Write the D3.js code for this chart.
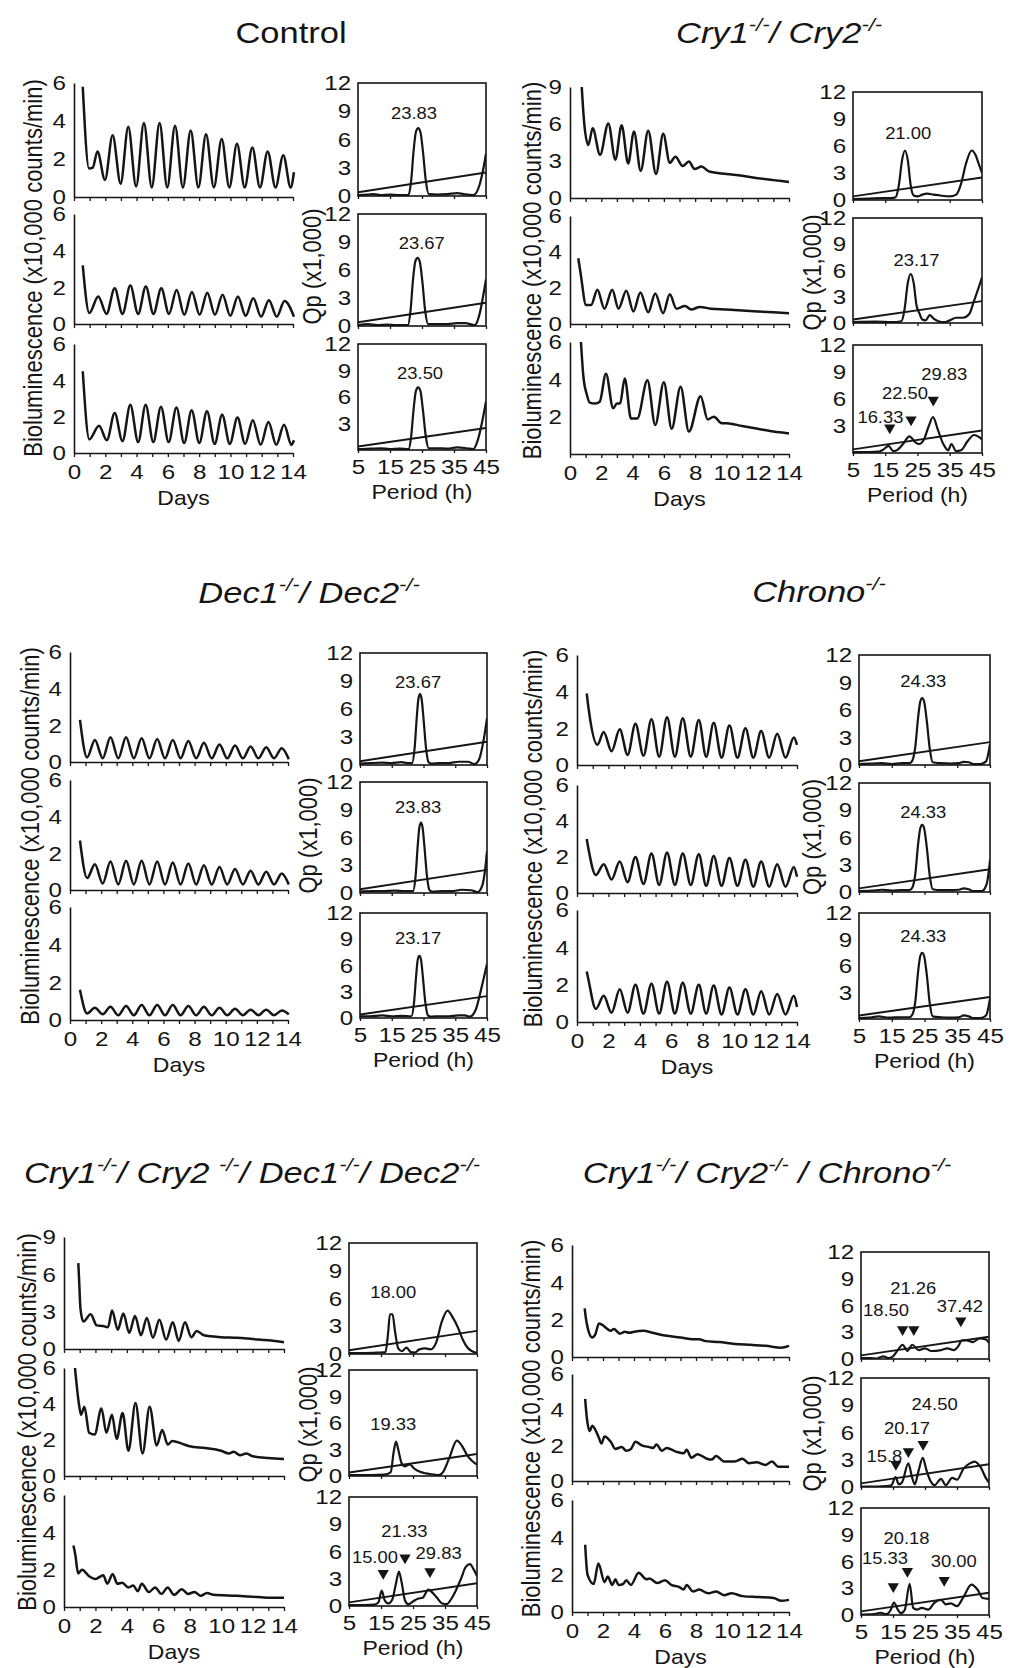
<!DOCTYPE html>
<html>
<head>
<meta charset="utf-8">
<script src="https://cdn.jsdelivr.net/npm/d3@7"></script>
<style>
body { margin: 0; background: #ffffff; }
svg { display: block; }
</style>
</head>
<body>
<svg></svg>
<script>
// ---- shared data ----
const dayTicks = d3.range(0, 15);
const periodTicks = [5, 15, 25, 35, 45];
const qpAll = [0, 3, 6, 9, 12];
const qpNoZero = [3, 6, 9, 12];
const bio6 = [0, 2, 4, 6];
const bio9 = [0, 3, 6, 9];
const thresholdLine = [[5, 0.4], [45, 2.5]];

// ---- titles: [text, superscript?] ----
const controlTitle = [["Control", false]];
const cryTitle = [["Cry1", false], ["-/-", true], ["/ Cry2", false], ["-/-", true]];
const decTitle = [["Dec1", false], ["-/-", true], ["/ Dec2", false], ["-/-", true]];
const chronoTitle = [["Chrono", false], ["-/-", true]];
const cryDecTitle = [["Cry1", false], ["-/-", true], ["/ Cry2 ", false], ["-/-", true], ["/ Dec1", false], ["-/-", true], ["/ Dec2", false], ["-/-", true]];
const cryChronoTitle = [["Cry1", false], ["-/-", true], ["/ Cry2", false], ["-/-", true], [" / Chrono", false], ["-/-", true]];

// ---- Control ----
const controlBio = [
  [[0.56,5.8],[0.96,1.5],[1.2,1.55],[1.5,2.4],[1.98,0.9],[2.47,3.25],[2.98,0.7],[3.47,3.7],[3.97,0.55],[4.47,3.9],[4.97,0.5],[5.47,3.9],[5.96,0.5],[6.46,3.75],[6.96,0.5],[7.46,3.5],[7.95,0.5],[8.44,3.3],[8.94,0.5],[9.44,3.05],[9.93,0.5],[10.42,2.8],[10.91,0.5],[11.4,2.6],[11.89,0.5],[12.38,2.4],[12.88,0.5],[13.38,2.2],[13.85,0.5],[14.06,1.3]],
  [[0.56,3.2],[0.98,0.6],[1.55,1.5],[2.08,0.55],[2.6,1.95],[3.1,0.55],[3.6,2.1],[4.1,0.55],[4.59,2.05],[5.08,0.55],[5.58,1.95],[6.07,0.55],[6.56,1.85],[7.05,0.5],[7.54,1.75],[8.03,0.5],[8.52,1.7],[9.01,0.5],[9.5,1.6],[9.99,0.45],[10.48,1.5],[10.97,0.45],[11.46,1.4],[11.96,0.4],[12.46,1.3],[12.96,0.4],[13.46,1.25],[14.06,0.4]],
  [[0.56,4.5],[0.98,0.75],[1.6,1.5],[2.1,0.7],[2.6,2.2],[3.1,0.65],[3.6,2.65],[4.1,0.6],[4.58,2.65],[5.07,0.6],[5.56,2.55],[6.05,0.6],[6.55,2.5],[7.04,0.55],[7.52,2.35],[8.01,0.55],[8.5,2.3],[8.99,0.5],[9.47,2.1],[9.96,0.5],[10.45,1.95],[10.94,0.5],[11.43,1.8],[11.93,0.45],[12.43,1.7],[12.93,0.45],[13.43,1.55],[13.9,0.45],[14.06,0.7]]
];
const controlBioTicks = [bio6, bio6, bio6];
const controlQp = [
  [[5,0.1],[8,0.15],[10,0.2],[12,0.1],[15,0.15],[18,0.1],[20.8,0.1],[21.6,1.6],[22.4,4.9],[23.1,6.8],[23.8,7.2],[24.5,6.8],[25.3,4.7],[26.2,1.6],[27.1,0.2],[30,0.15],[33,0.2],[36,0.3],[38,0.2],[41,0.1],[43,1.2],[44,2.6],[45,4.5]],
  [[5,0.1],[8,0.2],[11,0.1],[14,0.15],[17,0.1],[20.6,0.1],[21.4,1.6],[22.2,5.0],[22.9,6.9],[23.6,7.3],[24.3,6.9],[25.1,4.8],[26.0,1.6],[26.9,0.2],[30,0.2],[33,0.2],[36,0.3],[38.5,0.3],[41.5,0.1],[43,1.3],[44,3.0],[45,5.0]],
  [[5,0.1],[9,0.15],[12,0.2],[15,0.1],[18,0.15],[20.8,0.1],[21.6,1.5],[22.4,4.7],[23.1,6.7],[23.8,7.1],[24.5,6.7],[25.3,4.5],[26.2,1.5],[27.1,0.2],[30,0.2],[33,0.15],[36,0.3],[39,0.2],[41,0.1],[42.5,1.2],[43.8,3.2],[45,5.5]]
];
const controlQpTicks = [qpAll, qpAll, qpNoZero];
const controlLabels = [[["23.83",22.5,8.8]], [["23.67",24.9,8.9]], [["23.50",24.4,8.7]]];
const controlArrows = [[], [], []];

// ---- Cry1/Cry2 ----
const cryBio = [
  [[0.75,9.0],[0.9,6.2],[1.17,4.3],[1.45,5.65],[1.92,3.5],[2.45,6.05],[2.9,3.1],[3.3,5.9],[3.72,2.8],[4.09,5.4],[4.52,2.2],[5.0,5.45],[5.5,1.95],[5.96,5.2],[6.38,2.85],[6.74,3.35],[7.2,2.6],[7.6,2.95],[7.97,2.35],[8.4,2.55],[8.9,2.15],[10,1.95],[11,1.8],[12,1.6],[13,1.45],[14,1.3]],
  [[0.53,3.65],[0.68,2.8],[1.03,1.05],[1.35,1.05],[1.75,1.9],[2.2,0.85],[2.7,1.9],[3.1,0.85],[3.6,1.85],[4.05,0.7],[4.5,1.75],[5.0,0.65],[5.45,1.7],[5.95,0.6],[6.38,1.65],[6.8,0.85],[7.35,1.0],[7.75,0.8],[8.3,0.95],[9,0.85],[10,0.8],[11,0.75],[12,0.7],[13,0.65],[14,0.6]],
  [[0.7,6.0],[0.85,4.2],[1.07,3.2],[1.26,2.75],[1.6,2.7],[1.9,2.8],[2.3,4.3],[2.76,2.45],[3.0,2.7],[3.2,2.7],[3.5,4.05],[3.9,1.9],[4.3,1.9],[4.95,3.95],[5.45,1.55],[6.0,3.85],[6.5,1.35],[7.07,3.6],[7.6,1.2],[8.35,3.1],[8.8,1.85],[9.2,2.0],[9.7,1.65],[10,1.65],[11,1.5],[12,1.35],[13,1.2],[14,1.1]]
];
const cryBioTicks = [bio9, bio6, [2, 4, 6]];
const cryQp = [
  [[5,0.1],[10,0.15],[14,0.2],[17,0.2],[18.2,0.3],[19.2,1.6],[20.2,4.4],[21.1,5.5],[22.0,4.4],[22.9,1.6],[23.8,0.5],[25,0.4],[26.5,0.6],[28,0.7],[30,0.6],[32,0.5],[35,0.4],[37,0.6],[38.5,1.8],[40,4],[41.8,5.5],[43,5],[44,4],[45,3]],
  [[5,0.1],[12,0.15],[17,0.1],[20,0.2],[21.0,1.6],[22.0,4.6],[22.9,5.6],[23.8,4.6],[24.7,2.0],[25.6,1.1],[26.5,0.4],[27.5,0.3],[28.8,0.9],[30,0.5],[31.5,0.2],[33.5,0.1],[35,0.3],[37,0.6],[39,0.6],[41,1.0],[42.5,2.5],[45,5.2]],
  [[5,0.1],[10,0.1],[13,0.15],[14.5,0.4],[16,0.8],[17.5,0.2],[19,0.4],[20.5,1.0],[22.5,1.85],[24.3,1.2],[25.5,1.0],[27,1.5],[28.5,3.0],[29.8,4.0],[31.3,2.6],[33,1.0],[34.5,0.3],[35.5,1.0],[37,0.2],[38.5,0.3],[40.5,1.3],[42.5,2.0],[44,1.8],[45,1.5]]
];
const cryQpTicks = [qpAll, qpAll, qpNoZero];
const cryLabels = [[["21.00",22.1,7.4]], [["23.17",24.7,7.2]], [["16.33",13.5,4.0],["22.50",21.1,6.6],["29.83",33.3,8.7]]];
const cryArrows = [[], [], [[16.4,2.8],[23.0,3.7],[29.9,5.9]]];

// ---- Dec1/Dec2 ----
const decBio = [
  [[0.64,2.3],[1.1,0.25],[1.6,1.2],[2.1,0.2],[2.6,1.35],[3.1,0.2],[3.6,1.35],[4.1,0.2],[4.6,1.3],[5.1,0.2],[5.6,1.25],[6.1,0.2],[6.6,1.2],[7.1,0.2],[7.6,1.15],[8.1,0.2],[8.6,1.05],[9.1,0.2],[9.6,0.95],[10.1,0.2],[10.6,0.9],[11.1,0.2],[11.6,0.85],[12.1,0.2],[12.6,0.8],[13.1,0.2],[13.6,0.75],[14.05,0.15]],
  [[0.64,2.7],[1.1,0.65],[1.6,1.4],[2.1,0.35],[2.6,1.55],[3.1,0.3],[3.6,1.6],[4.1,0.3],[4.6,1.6],[5.1,0.3],[5.6,1.55],[6.1,0.3],[6.6,1.5],[7.1,0.3],[7.6,1.45],[8.1,0.3],[8.6,1.35],[9.1,0.3],[9.6,1.25],[10.1,0.3],[10.6,1.15],[11.1,0.3],[11.6,1.05],[12.1,0.3],[12.6,1.0],[13.1,0.3],[13.6,0.9],[14.05,0.3]],
  [[0.64,1.6],[1.1,0.35],[1.6,0.65],[2.1,0.3],[2.6,0.7],[3.1,0.25],[3.6,0.75],[4.1,0.25],[4.6,0.8],[5.1,0.25],[5.6,0.8],[6.1,0.25],[6.6,0.8],[7.1,0.25],[7.6,0.75],[8.1,0.25],[8.6,0.7],[9.1,0.25],[9.6,0.65],[10.1,0.25],[10.6,0.6],[11.1,0.25],[11.6,0.55],[12.1,0.25],[12.6,0.55],[13.1,0.25],[13.6,0.5],[14.05,0.3]]
];
const decBioTicks = [bio6, bio6, bio6];
const decQp = [
  [[5,0.15],[8,0.2],[12,0.25],[15,0.2],[18,0.3],[20,0.2],[21.4,0.2],[22.2,1.8],[22.9,5.2],[23.4,7.1],[23.9,7.6],[24.4,7.1],[25.0,5.0],[25.8,1.8],[26.6,0.3],[27.5,0.15],[30,0.2],[33,0.2],[36,0.35],[39,0.35],[41,0.1],[42.5,0.6],[44,2.8],[45,5.0]],
  [[5,0.15],[9,0.2],[12,0.2],[16,0.25],[19,0.2],[21.7,0.2],[22.5,1.8],[23.2,5.2],[23.7,7.1],[24.2,7.6],[24.7,7.1],[25.3,5.0],[26.1,1.8],[26.9,0.3],[27.8,0.15],[31,0.2],[34,0.2],[37,0.35],[40,0.3],[42,0.1],[43.5,0.8],[44.4,2.5],[45,4.5]],
  [[5,0.2],[8,0.2],[12,0.3],[15,0.2],[18,0.25],[21.2,0.2],[22.0,1.7],[22.7,4.9],[23.2,6.7],[23.7,7.1],[24.2,6.7],[24.8,4.7],[25.6,1.7],[26.4,0.3],[27.3,0.15],[30,0.2],[33,0.2],[36,0.3],[38,0.3],[39.6,0.15],[41.5,1.0],[43.3,3.5],[45,6.2]]
];
const decQpTicks = [qpAll, qpAll, qpAll];
const decLabels = [[["23.67",23.3,8.9]], [["23.83",23.3,9.2]], [["23.17",23.3,9.1]]];
const decArrows = [[], [], []];

// ---- Chrono ----
const chronoBio = [
  [[0.62,3.9],[0.75,3.0],[1.3,1.1],[1.7,1.8],[2.2,0.75],[2.72,1.95],[3.22,0.55],[3.72,2.25],[4.23,0.5],[4.74,2.5],[5.23,0.45],[5.73,2.6],[6.23,0.45],[6.73,2.55],[7.24,0.45],[7.75,2.45],[8.22,0.45],[8.7,2.3],[9.2,0.4],[9.7,2.15],[10.21,0.4],[10.72,2.0],[11.22,0.4],[11.72,1.85],[12.23,0.4],[12.74,1.7],[13.27,0.4],[13.8,1.5],[14.0,1.1]],
  [[0.62,3.0],[0.72,2.5],[1.2,1.0],[1.7,1.6],[2.2,0.75],[2.72,1.75],[3.22,0.6],[3.72,2.0],[4.23,0.5],[4.74,2.2],[5.23,0.45],[5.73,2.25],[6.23,0.45],[6.73,2.2],[7.24,0.45],[7.75,2.15],[8.22,0.4],[8.7,2.05],[9.2,0.4],[9.7,1.95],[10.21,0.4],[10.72,1.85],[11.22,0.35],[11.72,1.75],[12.23,0.35],[12.74,1.6],[13.27,0.35],[13.8,1.45],[14.0,0.9]],
  [[0.62,2.7],[0.72,2.3],[1.2,0.7],[1.7,1.4],[2.2,0.5],[2.72,1.75],[3.22,0.5],[3.72,2.0],[4.23,0.45],[4.74,2.05],[5.23,0.45],[5.73,2.15],[6.23,0.45],[6.73,2.1],[7.24,0.45],[7.75,2.0],[8.22,0.45],[8.7,1.95],[9.2,0.4],[9.7,1.85],[10.21,0.4],[10.72,1.75],[11.22,0.4],[11.72,1.65],[12.23,0.4],[12.74,1.5],[13.27,0.4],[13.8,1.4],[14.0,0.8]]
];
const chronoBioTicks = [bio6, bio6, bio6];
const chronoQp = [
  [[5,0.1],[8,0.15],[12,0.2],[15,0.1],[18,0.2],[20.4,0.2],[21.3,0.5],[22.2,2.0],[23.0,5.0],[23.7,6.9],[24.3,7.3],[24.9,6.9],[25.7,4.8],[26.6,1.8],[27.5,0.3],[30,0.2],[33,0.15],[35.5,0.2],[37,0.35],[38.5,0.3],[40,0.1],[42,0.1],[43.8,0.4],[45,2.3]],
  [[5,0.1],[9,0.15],[12,0.25],[15,0.15],[18,0.2],[20.4,0.2],[21.3,0.5],[22.2,2.0],[23.0,5.1],[23.7,7.0],[24.3,7.4],[24.9,7.0],[25.7,4.9],[26.6,1.8],[27.5,0.3],[30,0.2],[33,0.2],[35.5,0.25],[37,0.4],[38.5,0.3],[40,0.1],[42.5,0.1],[44,0.9],[45,3.5]],
  [[5,0.1],[8,0.15],[11,0.3],[14,0.15],[18,0.2],[20.4,0.2],[21.3,0.5],[22.2,2.0],[23.0,5.2],[23.7,7.1],[24.3,7.5],[24.9,7.1],[25.7,5.0],[26.6,1.8],[27.5,0.3],[30,0.2],[33,0.15],[35.5,0.2],[37,0.4],[38.5,0.3],[40,0.1],[42,0.1],[43.8,0.4],[45,2.3]]
];
const chronoQpTicks = [qpAll, qpAll, qpNoZero];
const chronoLabels = [[["24.33",24.6,9.1]], [["24.33",24.6,8.8]], [["24.33",24.6,9.3]]];
const chronoArrows = [[], [], []];

// ---- Cry1/Cry2/Dec1/Dec2 ----
const cryDecBio = [
  [[0.91,6.9],[0.96,5.6],[1.05,3.2],[1.23,2.2],[1.7,2.8],[2.08,1.9],[2.5,1.85],[2.8,1.75],[3.06,3.1],[3.42,1.55],[3.78,2.85],[4.15,1.3],[4.52,2.65],[4.9,1.1],[5.27,2.5],[5.66,0.9],[6.07,2.35],[6.5,0.75],[6.92,2.15],[7.3,0.65],[7.7,2.15],[8.1,0.95],[8.45,1.45],[8.9,1.1],[10,0.95],[11,0.9],[12,0.8],[13,0.7],[14,0.55]],
  [[0.7,6.0],[0.95,4.0],[1.08,3.4],[1.3,3.85],[1.6,2.4],[1.95,2.3],[2.38,3.75],[2.7,2.4],[3.05,3.4],[3.35,2.05],[3.73,3.5],[4.1,1.4],[4.55,4.05],[5.0,1.25],[5.45,3.85],[5.9,1.7],[6.25,2.55],[6.6,1.75],[6.9,1.95],[7.5,1.8],[8,1.65],[9,1.55],[10,1.4],[10.5,1.25],[10.8,1.35],[11.2,1.15],[11.6,1.25],[12,1.1],[13,1.0],[14,0.95]],
  [[0.6,3.3],[0.72,2.8],[0.9,1.8],[1.15,2.0],[1.6,1.65],[2.0,1.5],[2.5,1.7],[2.75,1.25],[3.1,1.75],[3.4,1.25],[3.7,1.3],[4.1,1.05],[4.4,1.15],[4.7,0.85],[4.95,1.25],[5.4,0.8],[5.8,1.05],[6.2,0.7],[6.6,1.05],[7.0,0.65],[7.5,0.95],[7.9,0.7],[8.3,0.8],[8.7,0.6],[9.1,0.75],[9.5,0.65],[11,0.6],[12,0.55],[13,0.5],[14,0.5]]
];
const cryDecBioTicks = [bio9, bio6, bio6];
const cryDecQp = [
  [[5,0.1],[10,0.1],[14,0.15],[16.4,0.2],[17.2,2.2],[17.8,4.3],[18.6,4.3],[19.4,2.4],[20.4,0.6],[21.5,0.3],[23,0.7],[24.3,0.2],[25.5,0.15],[27,0.5],[28.8,0.6],[30.5,0.5],[32.2,1.2],[34,3.5],[35.8,4.7],[37.5,3.9],[39,2.9],[40.5,1.6],[42,0.7],[43.5,0.3],[45,0.1]],
  [[5,0.1],[12,0.1],[16,0.15],[18,0.4],[19,2.8],[19.7,3.9],[20.5,2.8],[21.5,1.4],[22.5,1.1],[24,1.3],[25.5,0.8],[27,0.5],[29,0.3],[31,0.2],[33,0.1],[34.5,0.5],[36.5,2.2],[38.7,4.0],[40.5,3.3],[42,2.3],[43.5,1.7],[45,1.3]],
  [[5,0.1],[10,0.1],[13,0.15],[14.2,0.4],[15.2,1.7],[16.2,0.6],[17.3,0.3],[18.5,0.7],[19.7,2.5],[20.6,3.8],[21.5,2.5],[22.5,0.6],[23.5,0.2],[25,0.5],[26.5,0.8],[28,0.9],[29.8,1.8],[31,1.5],[32.5,0.9],[34,0.3],[35.5,0.2],[37,0.8],[38.5,1.8],[40,3.0],[41.5,4.3],[42.8,4.6],[44,4.0],[45,3.3]]
];
const cryDecQpTicks = [qpAll, qpAll, qpAll];
const cryDecLabels = [[["18.00",18.8,6.7]], [["19.33",18.8,5.8]], [["15.00",13.1,5.4],["21.33",22.3,8.2],["29.83",33.0,5.8]]];
const cryDecArrows = [[], [], [[15.7,3.6],[22.5,5.3],[30.3,3.8]]];

// ---- Cry1/Cry2/Chrono ----
const cryChronoBio = [
  [[0.82,2.6],[0.86,2.3],[1.0,1.6],[1.3,1.05],[1.5,1.2],[1.74,1.8],[2.0,1.7],[2.2,1.55],[2.5,1.4],[2.7,1.5],[3.0,1.3],[3.1,1.25],[3.4,1.35],[3.7,1.3],[4.0,1.35],[4.6,1.4],[5.2,1.3],[6.0,1.15],[7.0,1.05],[7.8,0.95],[8.2,0.95],[8.6,0.85],[9.5,0.8],[10.5,0.7],[11.5,0.65],[12.5,0.6],[13.5,0.5],[14,0.6]],
  [[0.85,4.6],[0.95,3.6],[1.15,2.8],[1.3,3.1],[1.7,2.5],[1.9,2.1],[2.1,2.5],[2.5,2.2],[2.8,1.8],[3.2,1.9],[3.5,1.7],[3.8,1.8],[4.1,2.2],[4.5,2.0],[5.0,1.9],[5.25,1.85],[5.45,2.05],[5.8,1.7],[6.1,1.85],[6.7,1.65],[7.2,1.55],[7.4,1.75],[7.7,1.3],[8.1,1.5],[8.7,1.25],[9.0,1.2],[9.3,1.4],[9.8,1.1],[10.5,1.1],[11,1.25],[11.4,1.0],[11.9,1.05],[12.5,0.9],[12.9,1.1],[13.3,0.8],[14,0.8]],
  [[0.85,3.6],[1.0,2.0],[1.4,1.5],[1.7,2.6],[2.1,1.6],[2.3,1.9],[2.6,1.45],[2.8,1.75],[3.0,1.45],[3.3,1.5],[3.5,1.7],[3.8,1.45],[4.3,2.1],[4.8,1.75],[5.0,1.8],[5.5,1.55],[6.0,1.7],[6.4,1.45],[6.9,1.35],[7.2,1.2],[7.4,1.45],[7.8,1.1],[8.2,1.2],[8.8,1.0],[9.3,1.1],[9.8,0.9],[10.3,1.0],[11,0.85],[12,0.8],[13,0.75],[13.5,0.6],[14,0.65]]
];
const cryChronoBioTicks = [bio6, bio6, bio6];
const cryChronoQp = [
  [[5,0.1],[8,0.1],[10,0.05],[11,0.2],[12,0.3],[13.5,0.1],[15,0.3],[16.5,1.0],[18,1.6],[19.5,0.9],[21,1.6],[23,1.0],[25,1.2],[27,0.9],[30,1.0],[32,1.2],[34,1.0],[35.5,1.5],[36.5,2.1],[38,2.1],[40,1.9],[42,2.3],[44,2.2],[45,1.8]],
  [[5,0.05],[10,0.05],[13,0.1],[14.5,0.2],[15.8,1.1],[16.8,0.3],[17.8,0.5],[19.8,2.6],[21,1.0],[21.8,0.3],[23,1.8],[24.3,3.2],[25.5,1.8],[26.8,0.6],[28,0.2],[30,0.9],[31.5,0.2],[33.5,1.0],[35,0.8],[37,2.0],[39,2.6],[40.5,2.8],[42.5,2.1],[44,1.0],[45,0.5]],
  [[5,0.05],[9,0.1],[11,0.25],[13,0.1],[14.2,0.5],[15.3,1.4],[16.5,0.6],[17.5,0.2],[18.7,0.6],[20.2,3.5],[21.3,0.8],[22.5,0.6],[24,0.8],[26,0.6],[28,1.4],[30,1.7],[31.5,1.2],[33,1.3],[35,1.0],[37,2.0],[39.5,3.4],[41.5,2.8],[43,1.9],[45,1.8]]
];
const cryChronoQpTicks = [qpAll, qpAll, qpAll];
const cryChronoLabels = [
  [["18.50",12.8,5.5],["21.26",21.3,7.9],["37.42",35.9,5.9]],
  [["15.8",12.3,3.4],["20.17",19.4,6.5],["24.50",28.0,9.1]],
  [["15.33",12.5,6.4],["20.18",19.2,8.6],["30.00",34.0,6.0]]
];
const cryChronoArrows = [
  [[18.0,3.3],[21.5,3.3],[36.2,4.3]],
  [[15.9,2.5],[19.8,3.9],[24.4,4.7]],
  [[15.1,3.2],[19.5,4.9],[31.0,3.9]]
];

// ---- page geometry ----
const width = 1015;
const height = 1668;
const ink = "#151515";
const fontFamily = "'Liberation Sans', Arial, Helvetica, sans-serif";
const textStretch = 1.15;

const panels = [
  { title: controlTitle, italic: false, titlePos: [291, 43],
    bio: controlBio, bioTicks: controlBioTicks, qp: controlQp, qpTicks: controlQpTicks,
    labels: controlLabels, arrows: controlArrows,
    bioX: [74, 293], bioRows: [[83,197],[214,324],[344,453]], bioTitleX: 33,
    qpX: [358, 486], qpRows: [[83,196],[214,326],[344,450]], qpTitleX: 312 },
  { title: cryTitle, italic: true, titlePos: [779, 43],
    bio: cryBio, bioTicks: cryBioTicks, qp: cryQp, qpTicks: cryQpTicks,
    labels: cryLabels, arrows: cryArrows,
    bioX: [570, 789], bioRows: [[87,198],[216,324],[342,454]], bioTitleX: 532,
    qpX: [853, 982], qpRows: [[92,200],[218,323],[345,453]], qpTitleX: 812 },
  { title: decTitle, italic: true, titlePos: [309, 603],
    bio: decBio, bioTicks: decBioTicks, qp: decQp, qpTicks: decQpTicks,
    labels: decLabels, arrows: decArrows,
    bioX: [70, 288], bioRows: [[652,762],[780,890],[907,1020]], bioTitleX: 30,
    qpX: [360, 487], qpRows: [[653,765],[782,893],[913,1018]], qpTitleX: 308 },
  { title: chronoTitle, italic: true, titlePos: [819, 602],
    bio: chronoBio, bioTicks: chronoBioTicks, qp: chronoQp, qpTicks: chronoQpTicks,
    labels: chronoLabels, arrows: chronoArrows,
    bioX: [577, 797], bioRows: [[655,765],[785,893],[910,1022]], bioTitleX: 533,
    qpX: [859, 990], qpRows: [[655,765],[783,892],[913,1019]], qpTitleX: 812 },
  { title: cryDecTitle, italic: true, titlePos: [252, 1183],
    bio: cryDecBio, bioTicks: cryDecBioTicks, qp: cryDecQp, qpTicks: cryDecQpTicks,
    labels: cryDecLabels, arrows: cryDecArrows,
    bioX: [64, 284], bioRows: [[1237,1349],[1368,1476],[1495,1607]], bioTitleX: 27,
    qpX: [349, 477], qpRows: [[1243,1354],[1370,1476],[1497,1606]], qpTitleX: 308 },
  { title: cryChronoTitle, italic: true, titlePos: [767, 1183],
    bio: cryChronoBio, bioTicks: cryChronoBioTicks, qp: cryChronoQp, qpTicks: cryChronoQpTicks,
    labels: cryChronoLabels, arrows: cryChronoArrows,
    bioX: [572, 789], bioRows: [[1245,1357],[1374,1481],[1500,1612]], bioTitleX: 531,
    qpX: [861, 989], qpRows: [[1252,1359],[1378,1487],[1508,1615]], qpTitleX: 812 }
];

const svg = d3.select("svg")
    .attr("width", width)
    .attr("height", height)
    .attr("viewBox", [0, 0, width, height]);

svg.append("rect")
    .attr("width", width)
    .attr("height", height)
    .attr("fill", "#ffffff");

let clipCount = 0;

function styleAxis(g, size) {
    g.attr("font-family", fontFamily).attr("font-size", size);
    g.select(".domain").attr("stroke", ink).attr("stroke-width", 1.6);
    g.selectAll(".tick line").attr("stroke", ink).attr("stroke-width", 1.3);
    g.selectAll(".tick text")
        .attr("fill", ink)
        .attr("transform", `scale(${textStretch},1)`);
}

function addText(parent, str, x, y, size, rotate) {
    return parent.append("text")
        .attr("transform", `translate(${x},${y}) scale(${textStretch},1)` + (rotate ? " rotate(-90)" : ""))
        .attr("text-anchor", "middle")
        .attr("dominant-baseline", "central")
        .attr("font-family", fontFamily)
        .attr("font-size", size)
        .attr("fill", ink)
        .text(str);
}

function drawTitle(p) {
    const t = svg.append("text")
        .attr("transform", `translate(${p.titlePos[0]},${p.titlePos[1]}) scale(${textStretch},1)`)
        .attr("text-anchor", "middle")
        .attr("font-family", fontFamily)
        .attr("font-size", 30)
        .attr("font-style", p.italic ? "italic" : "normal")
        .attr("fill", ink);
    let raised = false;
    p.title.forEach(([s, sup]) => {
        const span = t.append("tspan").text(s).attr("font-size", sup ? 19 : 30);
        if (sup && !raised) { span.attr("dy", -12); raised = true; }
        else if (!sup && raised) { span.attr("dy", 12); raised = false; }
    });
}

function drawBio(g, p) {
    const x = d3.scaleLinear().domain([0, 14]).range(p.bioX);
    const last = p.bio.length - 1;
    p.bio.forEach((trace, i) => {
        const [top, bottom] = p.bioRows[i];
        const ticks = p.bioTicks[i];
        const y = d3.scaleLinear().domain([0, d3.max(ticks)]).range([bottom, top]);

        const ya = g.append("g")
            .attr("transform", `translate(${p.bioX[0]},0)`)
            .call(d3.axisLeft(y)
                .tickValues(ticks)
                .tickFormat(d3.format("d"))
                .tickSize(0)
                .tickSizeOuter(0)
                .tickPadding(7));
        styleAxis(ya, 21);

        const xa = g.append("g")
            .attr("transform", `translate(0,${bottom})`)
            .call(d3.axisBottom(x)
                .tickValues(dayTicks)
                .tickSize(4)
                .tickSizeOuter(0)
                .tickPadding(7)
                .tickFormat(d => (i === last && d % 2 === 0) ? d : ""));
        styleAxis(xa, 21);

        const line = d3.line()
            .x(d => x(d[0]))
            .y(d => y(d[1]))
            .curve(d3.curveMonotoneX);

        g.append("path")
            .datum(trace)
            .attr("d", line)
            .attr("fill", "none")
            .attr("stroke", ink)
            .attr("stroke-width", 2.5)
            .attr("stroke-linejoin", "round");
    });

    const midX = (p.bioX[0] + p.bioX[1]) / 2;
    addText(g, "Days", midX, p.bioRows[last][1] + 45, 20);
    const midY = (p.bioRows[0][0] + p.bioRows[last][1]) / 2;
    addText(g, "Bioluminescence  (x10,000 counts/min)", p.bioTitleX, midY, 22, true);
}

function drawQp(g, p) {
    const x = d3.scaleLinear().domain([5, 45]).range(p.qpX);
    const last = p.qp.length - 1;
    p.qp.forEach((series, i) => {
        const [top, bottom] = p.qpRows[i];
        const y = d3.scaleLinear().domain([0, 12]).range([bottom, top]);
        const clipId = "qp-clip-" + (clipCount++);

        g.append("clipPath")
            .attr("id", clipId)
            .append("rect")
            .attr("x", p.qpX[0])
            .attr("y", top)
            .attr("width", p.qpX[1] - p.qpX[0])
            .attr("height", bottom - top);

        const line = d3.line()
            .x(d => x(d[0]))
            .y(d => y(d[1]))
            .curve(d3.curveMonotoneX);

        const plot = g.append("g").attr("clip-path", `url(#${clipId})`);

        plot.append("path")
            .datum(thresholdLine)
            .attr("d", d3.line().x(d => x(d[0])).y(d => y(d[1])))
            .attr("fill", "none")
            .attr("stroke", ink)
            .attr("stroke-width", 1.9);

        plot.append("path")
            .datum(series)
            .attr("d", line)
            .attr("fill", "none")
            .attr("stroke", ink)
            .attr("stroke-width", 2.2)
            .attr("stroke-linejoin", "round");

        g.append("rect")
            .attr("x", p.qpX[0])
            .attr("y", top)
            .attr("width", p.qpX[1] - p.qpX[0])
            .attr("height", bottom - top)
            .attr("fill", "none")
            .attr("stroke", ink)
            .attr("stroke-width", 1.6);

        const ya = g.append("g")
            .attr("transform", `translate(${p.qpX[0]},0)`)
            .call(d3.axisLeft(y)
                .tickValues(p.qpTicks[i])
                .tickFormat(d3.format("d"))
                .tickSize(0)
                .tickPadding(6));
        ya.select(".domain").remove();
        styleAxis(ya, 21);

        const xa = g.append("g")
            .attr("transform", `translate(0,${bottom})`)
            .call(d3.axisBottom(x)
                .tickValues(periodTicks)
                .tickSize(3)
                .tickSizeOuter(0)
                .tickPadding(6)
                .tickFormat(d => i === last ? d : ""));
        xa.select(".domain").remove();
        styleAxis(xa, 21);

        p.labels[i].forEach(([txt, per, q]) => {
            addText(g, txt, x(per), y(q), 16);
        });

        g.selectAll(null)
            .data(p.arrows[i])
            .join("path")
            .attr("d", d3.symbol(d3.symbolTriangle, 55))
            .attr("transform", d => `translate(${x(d[0])},${y(d[1])}) rotate(180)`)
            .attr("fill", ink);
    });

    const midX = (p.qpX[0] + p.qpX[1]) / 2;
    addText(g, "Period (h)", midX, p.qpRows[last][1] + 42, 20);
    const midY = (p.qpRows[0][0] + p.qpRows[last][1]) / 2;
    addText(g, "Qp (x1,000)", p.qpTitleX, midY, 22, true);
}

panels.forEach(p => {
    const g = svg.append("g");
    drawTitle(p);
    drawBio(g, p);
    drawQp(g, p);
});
</script>
</body>
</html>
